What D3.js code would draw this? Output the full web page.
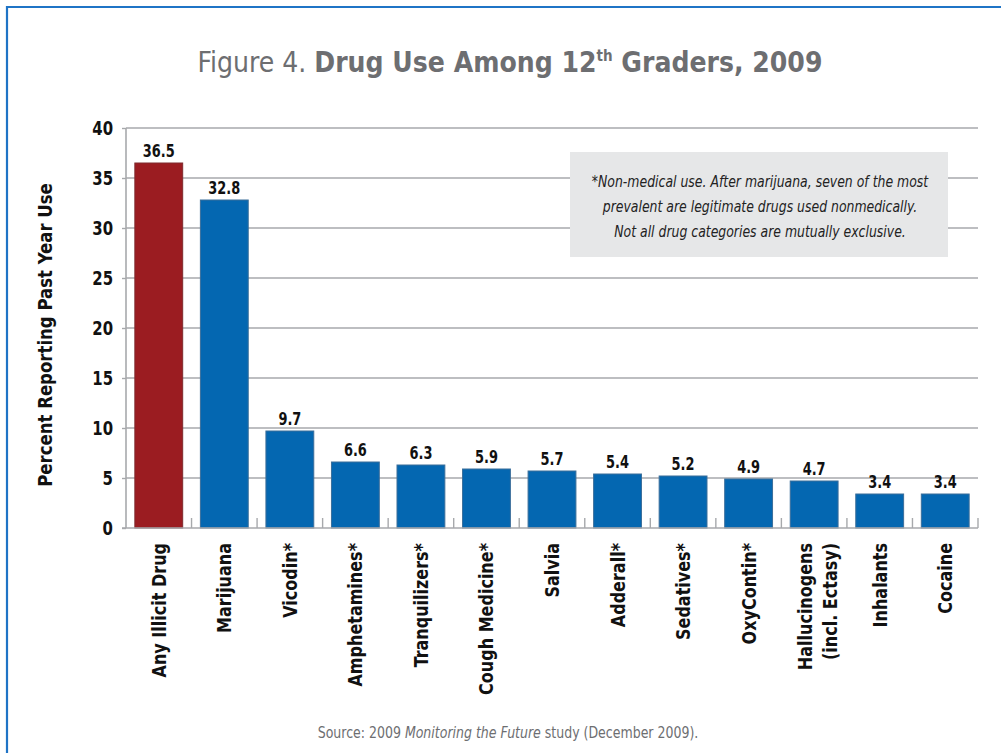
<!DOCTYPE html>
<html><head><meta charset="utf-8">
<script src="https://cdn.jsdelivr.net/npm/d3@7"></script>
<style>
body{margin:0;background:#fff;}
svg{display:block;}
</style></head>
<body>
<svg id="c" width="1001" height="753"></svg>
<script>
const categories = ["Any Illicit Drug","Marijuana","Vicodin*","Amphetamines*","Tranquilizers*","Cough Medicine*","Salvia","Adderall*","Sedatives*","OxyContin*","Hallucinogens|(incl. Ectasy)","Inhalants","Cocaine"];
const values = [36.5,32.8,9.7,6.6,6.3,5.9,5.7,5.4,5.2,4.9,4.7,3.4,3.4];
const valueLabels = ["36.5","32.8","9.7","6.6","6.3","5.9","5.7","5.4","5.2","4.9","4.7","3.4","3.4"];
const yTicks = [0,5,10,15,20,25,30,35,40];
const noteLines = ["*Non-medical use. After marijuana, seven of the most","prevalent are legitimate drugs used nonmedically.","Not all drug categories are mutually exclusive."];

const FONT = "'DejaVu Sans Condensed','DejaVu Sans',sans-serif";
const svg = d3.select("#c");

// frame
svg.append("path").attr("d","M7,753 V7 H1001").attr("fill","none").attr("stroke","#1f74c6").attr("stroke-width",2.2);

const m = {l:126, r:978, t:128, b:528};
const x = d3.scaleBand().domain(categories).range([m.l,m.r]).paddingInner(0.27).paddingOuter(0.135);
const y = d3.scaleLinear().domain([0,40]).range([m.b,m.t]);

// y ticks (outer) via axis
const gridG = svg.append("g").attr("transform",`translate(${m.l},0)`)
  .call(d3.axisLeft(y).tickValues(yTicks).tickSize(4).tickFormat(""));
gridG.select(".domain").remove();
gridG.selectAll("line").attr("stroke","#a7a9ac").attr("stroke-width",1.4);
// gridlines
svg.append("g").selectAll("line").data(yTicks.filter(d=>d>0)).join("line")
  .attr("x1",m.l).attr("x2",m.r).attr("y1",d=>y(d)).attr("y2",d=>y(d))
  .attr("stroke","#a7a9ac").attr("stroke-width",1.4);

// y tick labels
svg.append("g").selectAll("text").data(yTicks).join("text")
  .attr("transform",d=>`translate(113,${y(d)+7}) scale(0.85,1)`).attr("text-anchor","end")
  .attr("font-family",FONT).attr("font-weight","bold").attr("font-size",19.5).attr("fill","#111")
  .text(d=>d);

// note box
const nb = {x:570,y:152,w:378,h:105};
svg.append("rect").attr("x",nb.x).attr("y",nb.y).attr("width",nb.w).attr("height",nb.h).attr("fill","#e6e7e8");
svg.append("g").selectAll("text").data(noteLines).join("text")
  .attr("transform",(d,i)=>`translate(${nb.x+nb.w/2+1},${187+i*25}) scale(0.84,1)`).attr("text-anchor","middle")
  .attr("font-family",FONT).attr("font-style","italic").attr("font-size",16.5).attr("fill","#222")
  .text(d=>d);

// bars
svg.append("g").selectAll("rect").data(values).join("rect")
  .attr("x",(d,i)=>x(categories[i])).attr("width",x.bandwidth())
  .attr("y",d=>y(d)).attr("height",d=>y(0)-y(d))
  .attr("fill",(d,i)=>i===0?"#9b1c21":"#0467b1")
  .attr("stroke",(d,i)=>i===0?"#7e2a2e":"#3b6e9a").attr("stroke-width",1);

// value labels
svg.append("g").selectAll("text").data(values).join("text")
  .attr("transform",(d,i)=>`translate(${x(categories[i])+x.bandwidth()/2},${y(d)-6}) scale(0.8,1)`)
  .attr("text-anchor","middle").attr("font-family",FONT).attr("font-weight","bold")
  .attr("font-size",18).attr("fill","#111").text((d,i)=>valueLabels[i]);

// x axis line and boundary ticks
const bounds = d3.range(categories.length+1).map(i=>m.l+i*(m.r-m.l)/categories.length);
svg.append("g").selectAll("line").data(bounds.slice(1)).join("line")
  .attr("x1",d=>d).attr("x2",d=>d).attr("y1",m.b-10).attr("y2",m.b)
  .attr("stroke","#a7a9ac").attr("stroke-width",1.4);
svg.append("line").attr("x1",m.l).attr("x2",m.l).attr("y1",m.t).attr("y2",m.b).attr("stroke","#a7a9ac").attr("stroke-width",1.6);
svg.append("line").attr("x1",122).attr("x2",m.r).attr("y1",m.b).attr("y2",m.b).attr("stroke","#a7a9ac").attr("stroke-width",1.6);

// x labels
const xl = svg.append("g");
categories.forEach((c,i)=>{
  const parts = c.split("|");
  const cx = x(c)+x.bandwidth()/2;
  const n = parts.length;
  parts.forEach((p,j)=>{
    const off = n===1 ? 7 : 10 + (j-(n-1)/2)*25;
    xl.append("text").attr("transform",`translate(${cx+off},543) rotate(-90) scale(0.89,1)`)
      .attr("text-anchor","end").attr("font-family",FONT).attr("font-weight","bold")
      .attr("font-size",20).attr("fill","#111").text(p);
  });
});

// y axis title
svg.append("text").attr("transform","translate(52,335) rotate(-90) scale(0.92,1)").attr("text-anchor","middle")
  .attr("font-family",FONT).attr("font-weight","bold").attr("font-size",20).attr("fill","#111")
  .text("Percent Reporting Past Year Use");

// title
const t = svg.append("text").attr("x",510).attr("y",72).attr("text-anchor","middle")
  .attr("font-family",FONT).attr("font-size",28).attr("fill","#6d6e71");
t.append("tspan").text("Figure 4. ");
t.append("tspan").attr("font-weight","bold").text("Drug Use Among 12");
t.append("tspan").attr("font-weight","bold").attr("font-size",15).attr("dy",-11).text("th");
t.append("tspan").attr("font-weight","bold").attr("dy",11).text(" Graders, 2009");

// source
const s = svg.append("text").attr("transform","translate(508,738) scale(0.9,1)").attr("text-anchor","middle")
  .attr("font-family",FONT).attr("font-size",15.5).attr("fill","#6d6e71");
s.append("tspan").text("Source: 2009 ");
s.append("tspan").attr("font-style","italic").text("Monitoring the Future");
s.append("tspan").text(" study (December 2009).");
</script>
</body></html>
